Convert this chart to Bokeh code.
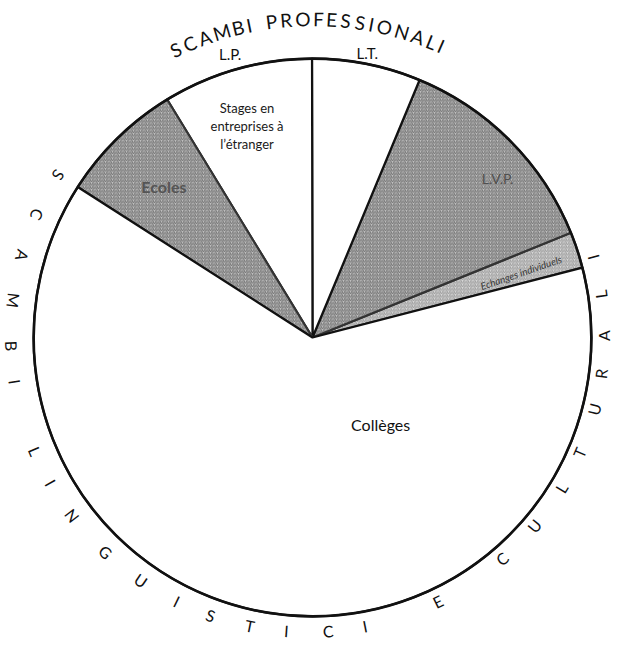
import numpy as np
from bokeh.plotting import figure
from bokeh.models import ColumnDataSource
from bokeh.core.properties import value
from bokeh.embed import file_html
from bokeh.resources import INLINE

# ---------------- data ----------------
categories = ["Echanges individuels", "L.V.P.", "L.T.",
              "Stages en entreprises à l’étranger", "Ecoles", "Collèges"]
shares = [2.1, 12.6, 6.3, 8.7, 7.2, 63.1]          # percent of the whole
labels = ["Echanges individuels", "L.V.P.", "",
          "Stages en\nentreprises à\nl’étranger", "Ecoles", "Collèges"]
outer_labels = ["L.P.", "L.T."]
arc_title_top = "SCAMBI PROFESSIONALI"
arc_title_ring = "SCAMBI LINGUISTICI E CULTURALI"

# ---------------- layout ----------------
W, H = 613, 645
S = 0.975                      # scale from reference pixels
CX, CY = 312.0, 308.0          # pie centre (data units = px)
R = 286 * S
START = np.deg2rad(14.5)

FONT = "Lato"

p = figure(width=W, height=H, x_range=(0, W), y_range=(0, H),
           output_backend="svg", toolbar_location=None, min_border=0,
           x_axis_location=None, y_axis_location=None)
p.grid.visible = False
p.outline_line_color = None
p.background_fill_color = "white"
p.border_fill_color = "white"

vals = np.array(shares, dtype=float)
ang = vals / vals.sum() * 2 * np.pi
ends = START + np.cumsum(ang)
starts = ends - ang

fill = ["#dadada", "#c2c2c2", "white", "white", "#c2c2c2", "white"]
hatch = ["/", "/", " ", " ", "/", " "]
hcol = ["#959595", "#6a6a6a", "#000000", "#000000", "#6a6a6a", "#000000"]
lcol = ["#333333", "#333333", "#111111", "#111111", "#333333", "#111111"]

src = ColumnDataSource(dict(x=[CX] * 6, y=[CY] * 6, start=starts, end=ends,
                            fill=fill, hatch=hatch, hcol=hcol, lcol=lcol,
                            cat=categories))
p.wedge(x="x", y="y", radius=R, start_angle="start", end_angle="end",
        fill_color="fill", hatch_pattern="hatch", hatch_color="hcol",
        hatch_scale=3.5, hatch_weight=1.0, hatch_alpha=0.9,
        line_color="lcol", line_width=2.2, source=src)
# outer rim
p.circle(x=[CX], y=[CY], radius=R, fill_color=None, line_color="#111111",
         line_width=2.6)

# ---------------- slice labels ----------------
# (angle in degrees, radius in reference px, font size, colour, rotation deg, style)
lab_pos = {
    "Echanges individuels": (17.3, 224, "10px", "#3a3a3a", 19, "italic"),
    "L.V.P.": (40.6, 250, "14px", "#4f4f4f", 0, "normal"),
    "Stages en\nentreprises à\nl’étranger": (107.2, 227, "13px", "#1a1a1a", 0, "normal"),
    "Ecoles": (134.6, 217, "16px", "#555555", 0, "bold"),
    "Collèges": (308.2, 113, "16px", "#111111", 0, "normal"),
}
for lab in labels:
    if not lab:
        continue
    a, r, fs, col, rot, style = lab_pos[lab]
    x = CX + r * S * np.cos(np.deg2rad(a))
    y = CY + r * S * np.sin(np.deg2rad(a))
    p.text(x=[x], y=[y], text=[lab], angle=np.deg2rad(rot),
           text_align="center", text_baseline="middle",
           text_font=value(FONT), text_font_size=fs, text_color=col,
           text_font_style=style, text_line_height=1.15)

# L.P. / L.T. outside the rim
for lab, a, r in zip(outer_labels, [106.2, 79.1], [303, 297]):
    x = CX + r * S * np.cos(np.deg2rad(a))
    y = CY + r * S * np.sin(np.deg2rad(a))
    p.text(x=[x], y=[y], text=[lab], text_align="center",
           text_baseline="middle", text_font=value(FONT),
           text_font_size="15px", text_color="#111111")

# ---------------- curved title on top ----------------
cw = {'S': 11, 'C': 12, 'A': 13, 'M': 15, 'B': 11, 'I': 5, ' ': 8, 'P': 11,
      'R': 11, 'O': 15, 'F': 9, 'E': 10, 'N': 13, 'L': 9}
pos, acc = [], 0.0
for ch in arc_title_top:
    w = cw.get(ch, 10)
    pos.append(acc + w / 2)
    acc += w + 2.5
pos = np.array(pos)
a0, a1 = 115.4, 66.2
top_ang = a0 + (pos - pos[0]) / (pos[-1] - pos[0]) * (a1 - a0)
RT = 327 * S
tx, ty, tt, tr = [], [], [], []
for ch, a in zip(arc_title_top, top_ang):
    if ch == " ":
        continue
    t = np.deg2rad(a)
    tx.append(CX + RT * np.cos(t))
    ty.append(CY + RT * np.sin(t))
    tt.append(ch)
    tr.append(t - np.pi / 2)
p.text(x=tx, y=ty, text=tt, angle=tr, text_align="center",
       text_baseline="middle", text_font=value(FONT),
       text_font_size="19px", text_color="#111111")

# ---------------- ring title around the rest ----------------
ring_angles = [147.2, 155.9, 164.3, 173.2, 182.0, 189.0,
               203.0, 209.8, 217.4, 227.0, 235.8, 243.8, 250.9, 258.8, 265.9, 274.0, 281.2,
               296.1,
               311.1, 320.0, 329.0, 336.7, 345.6, 352.6, 360.0, 368.0, 375.3]
ring_chars = [c for c in arc_title_ring if c != " "]
RR = 296
RCX = CX - 5
RCY = CY + 2
rx, ry, rt, rr = [], [], [], []
for ch, a in zip(ring_chars, ring_angles):
    t = np.deg2rad(a)
    rx.append(RCX + RR * np.cos(t))
    ry.append(RCY + RR * np.sin(t))
    rt.append(ch)
    rr.append(t + np.pi / 2)
p.text(x=rx, y=ry, text=rt, angle=rr, text_align="center",
       text_baseline="middle", text_font=value(FONT),
       text_font_size="16px", text_color="#111111")

open("out.html", "w").write(file_html(p, INLINE))
